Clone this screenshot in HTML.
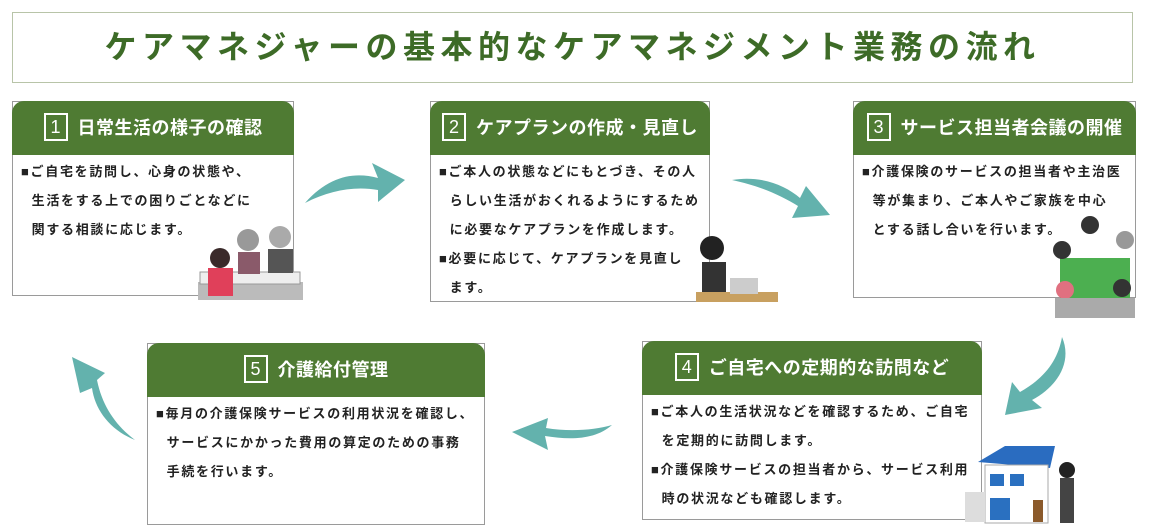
<!DOCTYPE html>
<html><head><meta charset="utf-8"><style>
body{margin:0;width:1150px;height:527px;background:#fff;position:relative;overflow:hidden;font-family:"Liberation Sans","Noto Sans CJK JP",sans-serif}
.t{position:absolute;left:12px;top:12px;width:1119px;height:69px;border:1px solid #b8c4a8;text-align:center;line-height:69px;font-size:32px;font-weight:bold;color:#3d6b27;letter-spacing:5.5px}
.b{position:absolute;border:1px solid #9a9a9a;background:#fff}
.h{position:absolute;left:-1px;top:-1px;right:-1px;height:54px;background:#4f7b33;border-radius:12px 12px 0 0;color:#fff;font-weight:bold;font-size:18px;line-height:54px;text-align:center;letter-spacing:0.5px}
.n{display:inline-block;border:2px solid #fff;width:20px;height:24px;line-height:24px;font-size:18px;margin-right:10px;vertical-align:middle;position:relative;top:-2px;font-weight:normal;letter-spacing:0}
.x{position:absolute;left:8px;top:55px;font-size:13px;font-weight:bold;color:#222;line-height:29px;white-space:nowrap;letter-spacing:1.7px}
svg{position:absolute;left:0;top:0}
</style></head><body>
<div class="t">ケアマネジャーの基本的なケアマネジメント業務の流れ</div>

<div class="b" style="left:12px;top:101px;width:280px;height:193px"><div class="h"><span class="n">1</span>日常生活の様子の確認</div>
<div class="x">■ご自宅を訪問し、心身の状態や、<br>&nbsp;&nbsp;生活をする上での困りごとなどに<br>&nbsp;&nbsp;関する相談に応じます。</div></div>

<div class="b" style="left:430px;top:101px;width:278px;height:199px"><div class="h"><span class="n">2</span>ケアプランの作成・見直し</div>
<div class="x">■ご本人の状態などにもとづき、その人<br>&nbsp;&nbsp;らしい生活がおくれるようにするため<br>&nbsp;&nbsp;に必要なケアプランを作成します。<br>■必要に応じて、ケアプランを見直し<br>&nbsp;&nbsp;ます。</div></div>

<div class="b" style="left:853px;top:101px;width:281px;height:195px"><div class="h"><span class="n">3</span>サービス担当者会議の開催</div>
<div class="x">■介護保険のサービスの担当者や主治医<br>&nbsp;&nbsp;等が集まり、ご本人やご家族を中心<br>&nbsp;&nbsp;とする話し合いを行います。</div></div>

<div class="b" style="left:642px;top:341px;width:338px;height:177px"><div class="h"><span class="n">4</span>ご自宅への定期的な訪問など</div>
<div class="x">■ご本人の生活状況などを確認するため、ご自宅<br>&nbsp;&nbsp;を定期的に訪問します。<br>■介護保険サービスの担当者から、サービス利用<br>&nbsp;&nbsp;時の状況なども確認します。</div></div>

<div class="b" style="left:147px;top:343px;width:336px;height:180px"><div class="h"><span class="n">5</span>介護給付管理</div>
<div class="x">■毎月の介護保険サービスの利用状況を確認し、<br>&nbsp;&nbsp;サービスにかかった費用の算定のための事務<br>&nbsp;&nbsp;手続を行います。</div></div>

<svg width="1150" height="527">
<g fill="#63b2ad">
<path d="M305,203 C330,175 355,172 378,178 L372,163 L405,180 L378,202 L378,190 C355,186 330,190 305,203Z"/>
<path d="M732,180 C760,175 785,185 800,198 L806,186 L830,215 L792,218 L798,206 C780,195 760,186 732,180Z"/>
<path d="M1062,337 C1072,360 1060,385 1032,400 L1042,408 L1005,415 L1012,382 L1020,392 C1045,378 1058,360 1062,337Z"/>
<path d="M612,425 C595,440 570,440 545,436 L548,450 L512,432 L548,418 L546,428 C570,432 595,430 612,425Z"/>
<path d="M135,440 C110,430 95,410 92,388 L80,393 L72,357 L105,373 L97,380 C102,405 115,425 135,440Z"/>
</g>
<rect x="198" y="282" width="105" height="18" fill="#bbb"/><rect x="200" y="272" width="100" height="12" fill="#eee" stroke="#999"/>
<circle cx="248" cy="240" r="11" fill="#999"/><rect x="238" y="252" width="22" height="22" fill="#8a5a6a"/>
<circle cx="280" cy="237" r="11" fill="#aaa"/><rect x="268" y="249" width="25" height="24" fill="#555"/>
<circle cx="220" cy="258" r="10" fill="#3a2a2a"/><rect x="208" y="268" width="25" height="28" fill="#e0405a"/>
<rect x="696" y="292" width="82" height="10" fill="#c8a060"/><rect x="730" y="278" width="28" height="16" fill="#ccc"/>
<circle cx="712" cy="248" r="12" fill="#222"/><rect x="702" y="262" width="24" height="30" fill="#333"/>
<rect x="1060" y="258" width="70" height="40" fill="#4caf50"/><circle cx="1090" cy="225" r="9" fill="#333"/><circle cx="1125" cy="240" r="9" fill="#999"/><circle cx="1062" cy="250" r="9" fill="#333"/><circle cx="1065" cy="290" r="9" fill="#e07080"/><circle cx="1122" cy="288" r="9" fill="#333"/><rect x="1055" y="298" width="80" height="20" fill="#aaa"/>
<polygon points="978,462 1005,446 1055,446 1050,468" fill="#2a6cc0"/><rect x="985" y="465" width="63" height="58" fill="#fff" stroke="#aaa"/>
<rect x="990" y="474" width="14" height="12" fill="#2a70c0"/><rect x="1010" y="474" width="14" height="12" fill="#2a70c0"/><rect x="990" y="498" width="20" height="22" fill="#2a70c0"/><rect x="1033" y="500" width="10" height="22" fill="#8b5a2b"/>
<rect x="965" y="492" width="20" height="30" fill="#ddd"/><circle cx="1067" cy="470" r="8" fill="#222"/><rect x="1060" y="478" width="14" height="45" fill="#444"/>
</svg>
</body></html>
